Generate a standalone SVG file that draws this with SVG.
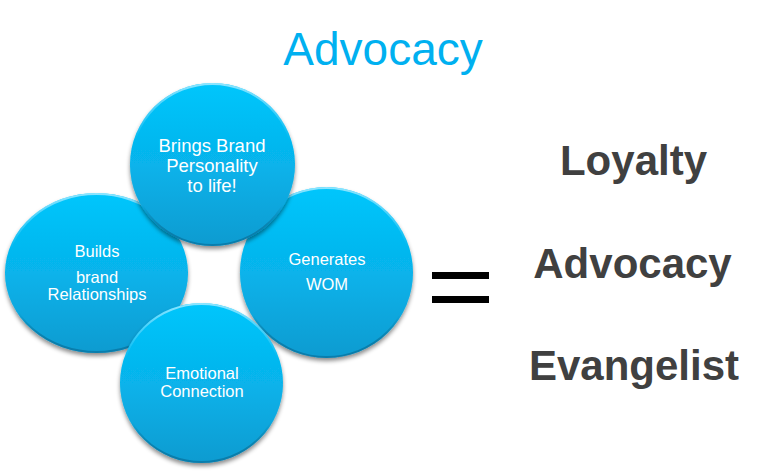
<svg xmlns="http://www.w3.org/2000/svg" width="768" height="472" viewBox="0 0 768 472">
  <defs>
    <linearGradient id="ballFill" x1="0" y1="0" x2="0" y2="1">
      <stop offset="0" stop-color="#02c6fc"/>
      <stop offset="0.5" stop-color="#07b3eb"/>
      <stop offset="1" stop-color="#0c9bd0"/>
    </linearGradient>
    <linearGradient id="rim" x1="0" y1="0" x2="0" y2="1">
      <stop offset="0" stop-color="#9be8ff" stop-opacity="0.9"/>
      <stop offset="0.35" stop-color="#7fdcff" stop-opacity="0"/>
      <stop offset="0.75" stop-color="#000000" stop-opacity="0"/>
      <stop offset="1" stop-color="#05608a" stop-opacity="0.5"/>
    </linearGradient>
    <filter id="shadow" x="-20%" y="-20%" width="140%" height="150%">
      <feDropShadow dx="0" dy="3" stdDeviation="2.2" flood-color="#000000" flood-opacity="0.45"/>
    </filter>
  </defs>
  <style>
    .ball { fill: url(#ballFill); filter: url(#shadow); }
    .rim { fill: none; stroke: url(#rim); stroke-width: 2; }
    .lbl { font-family: "Liberation Sans", Arial, sans-serif; fill: #ffffff; text-anchor: middle; }
    .big { font-family: "Liberation Sans", Arial, sans-serif; font-weight: bold; fill: #404040; text-anchor: middle; font-size: 42px; }
    .title { font-family: "Liberation Sans", Arial, sans-serif; fill: #00b0f0; text-anchor: middle; font-size: 46px; }
  </style>
  <rect width="768" height="472" fill="#ffffff"/>

  <text class="title" x="383" y="65">Advocacy</text>

  <g id="node-builds">
    <ellipse class="ball" cx="96.5" cy="273" rx="91.5" ry="80"/>
    <ellipse class="rim" cx="96.5" cy="273" rx="90.5" ry="79"/>
    <text class="lbl" font-size="16.5" x="97" y="257">Builds</text>
    <text class="lbl" font-size="16.5" x="97" y="283">brand</text>
    <text class="lbl" font-size="16.5" x="97" y="300">Relationships</text>
  </g>

  <g id="node-generates">
    <ellipse class="ball" cx="326.5" cy="272.5" rx="86.5" ry="85.5"/>
    <ellipse class="rim" cx="326.5" cy="272.5" rx="85.5" ry="84.5"/>
    <text class="lbl" font-size="16.5" x="327" y="265">Generates</text>
    <text class="lbl" font-size="16.5" x="327" y="290">WOM</text>
  </g>

  <g id="node-brings">
    <ellipse class="ball" cx="212.5" cy="164.5" rx="82.5" ry="81.5"/>
    <ellipse class="rim" cx="212.5" cy="164.5" rx="81.5" ry="80.5"/>
    <text class="lbl" font-size="18.5" x="212" y="152">Brings Brand</text>
    <text class="lbl" font-size="18.5" x="212" y="172">Personality</text>
    <text class="lbl" font-size="18.5" x="212" y="192">to life!</text>
  </g>

  <g id="node-emotional">
    <ellipse class="ball" cx="201.5" cy="383" rx="81.5" ry="80"/>
    <ellipse class="rim" cx="201.5" cy="383" rx="80.5" ry="79"/>
    <text class="lbl" font-size="16.5" x="202" y="379">Emotional</text>
    <text class="lbl" font-size="16.5" x="202" y="397">Connection</text>
  </g>

  <g id="equals">
    <rect x="432" y="272" width="57" height="7" fill="#000000"/>
    <rect x="432" y="296" width="57" height="7" fill="#000000"/>
  </g>

  <g id="results">
    <text class="big" x="633.5" y="175">Loyalty</text>
    <text class="big" x="632.5" y="278">Advocacy</text>
    <text class="big" x="634" y="380">Evangelist</text>
  </g>
</svg>
